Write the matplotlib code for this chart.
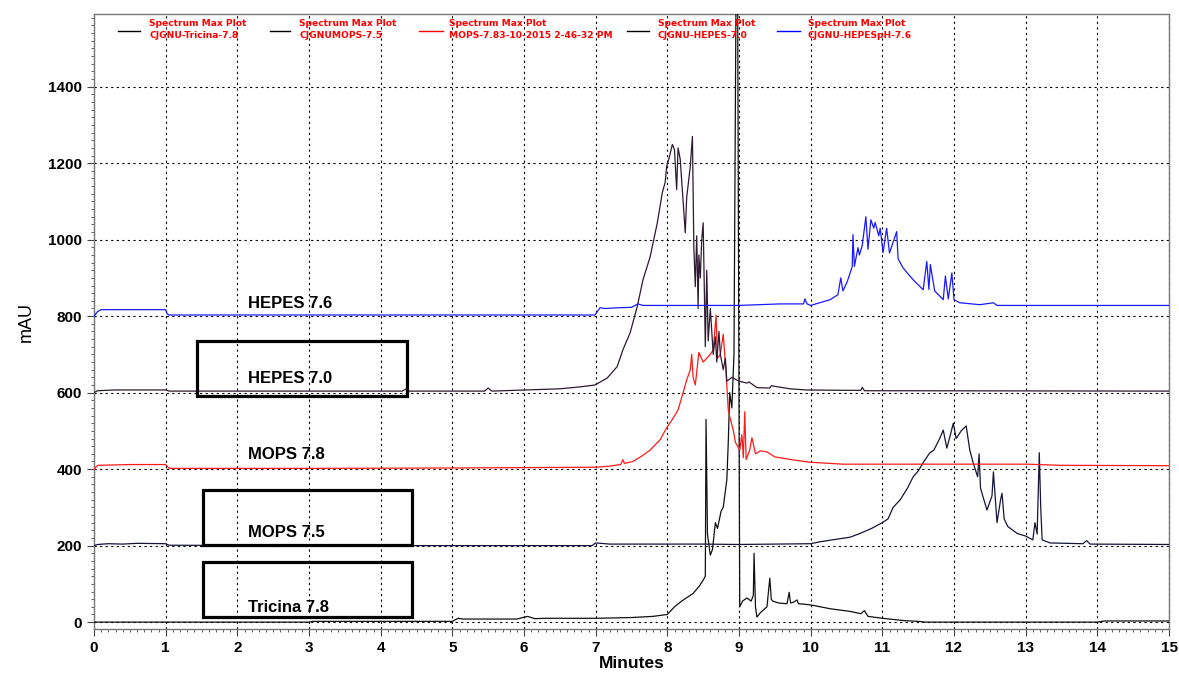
import matplotlib
matplotlib.use('Agg')
import matplotlib.pyplot as plt
from matplotlib.patches import Rectangle
from matplotlib.lines import Line2D
from matplotlib.ticker import MultipleLocator

# Tricina 7.8 (offset 0)
tric_t = [0, 1.0, 3.0, 3.05, 5.0, 5.08, 5.15, 5.5, 5.9, 6.05, 6.15, 6.3, 7.0, 7.5, 7.8, 8.0,
          8.1, 8.2, 8.36, 8.45, 8.5, 8.53, 8.54, 8.56, 8.6, 8.63, 8.67, 8.7, 8.75, 8.78, 8.83,
          8.85, 8.87, 8.9, 8.93, 8.96, 8.98, 9.01, 9.05, 9.11, 9.17, 9.2, 9.21, 9.23, 9.25,
          9.3, 9.39, 9.43, 9.45, 9.47, 9.55, 9.67, 9.7, 9.72, 9.76, 9.81, 9.83, 9.9, 10.0,
          10.27, 10.55, 10.7, 10.75, 10.8, 11.0, 11.3, 11.5, 11.6, 12.0, 14.0, 14.1, 15.0]
tric_v = [0, 0, 0, 2, 2, 10, 8, 8, 8, 15, 9, 10, 10, 12, 15, 20,
          40, 55, 75, 95, 110, 120, 530, 230, 175, 190, 260, 245, 290, 300, 372,
          468, 600, 560, 700, 1700, 1700, 40, 55, 63, 55, 70, 180, 40, 13,
          25, 40, 115, 60, 55, 50, 48, 78, 50, 52, 58, 48, 47, 45,
          35, 28, 22, 30, 15, 10, 4, 2, 0, 0, 0, 3, 3]

# MOPS 7.5 (offset 200)
mops75_t = [0, 0.05, 0.2, 0.4, 0.6, 1.0, 1.05, 3.0, 5.0, 6.95, 7.0, 7.2, 8.5, 9.0, 9.5, 10.0,
            10.13, 10.3, 10.55, 10.69, 10.85, 11.0, 11.08, 11.15, 11.25, 11.35, 11.43, 11.5,
            11.58, 11.66, 11.72, 11.8, 11.85, 11.9, 11.95, 11.99, 12.03, 12.1, 12.17, 12.22,
            12.27, 12.33, 12.35, 12.37, 12.46, 12.53, 12.55, 12.6, 12.65, 12.67, 12.7, 12.75,
            12.88, 13.0, 13.1, 13.13, 13.16, 13.19, 13.21, 13.23, 13.34, 13.8, 13.85, 13.9, 15.0]
mops75_v = [200, 203, 205, 204, 206, 205, 201, 200, 200, 200, 207, 204, 204, 203, 204, 205,
            210, 215, 222, 232, 245, 260, 270, 300, 320, 350, 380, 395,
            420, 442, 450, 480, 502, 455, 490, 520, 480, 500, 513, 450,
            415, 380, 440, 350, 293, 330, 393, 260, 320, 337, 270, 250,
            232, 225, 215, 260, 230, 443, 300, 215, 207, 205, 213, 204, 203]

# MOPS 7.8 (offset 400)
mops78_t = [0, 0.05, 0.5, 1.0, 1.05, 3.0, 5.0, 7.0, 7.2, 7.35, 7.38, 7.4, 7.52, 7.65, 7.76,
            7.9, 7.99, 8.07, 8.15, 8.22, 8.27, 8.32, 8.34, 8.36, 8.39, 8.44, 8.5, 8.55, 8.6,
            8.64, 8.68, 8.7, 8.74, 8.78, 8.82, 8.85, 8.88, 8.92, 8.95, 9.01, 9.04, 9.06, 9.08,
            9.1, 9.15, 9.18, 9.23, 9.3, 9.39, 9.5, 9.76, 9.99, 10.45, 11.0, 13.0, 13.5, 15.0]
mops78_v = [400, 410, 412, 412, 402, 402, 403, 405, 408, 412, 425, 415, 420, 435, 450,
            477, 508, 530, 555, 600, 633, 660, 700, 640, 620, 705, 680, 690, 700,
            712, 803, 690, 700, 753, 650, 555, 530, 502, 470, 450, 490, 430, 550,
            425, 450, 482, 440, 448, 445, 432, 424, 418, 413, 413, 413, 410, 409]

# HEPES 7.0 (offset 600)
hep70_t = [0, 0.05, 0.3, 1.0, 1.05, 4.3, 4.35, 4.4, 5.45, 5.5, 5.55, 6.5, 6.78, 6.99, 7.16,
           7.3, 7.38, 7.48, 7.58, 7.66, 7.76, 7.86, 7.93, 7.97, 7.99, 8.02, 8.07, 8.1, 8.13,
           8.15, 8.18, 8.25, 8.27, 8.32, 8.35, 8.37, 8.39, 8.41, 8.43, 8.44, 8.46, 8.48, 8.5,
           8.53, 8.55, 8.57, 8.6, 8.62, 8.64, 8.67, 8.69, 8.72, 8.74, 8.78, 8.81, 8.83, 8.9,
           9.0, 9.11, 9.14, 9.25, 9.43, 9.45, 9.71, 9.94, 10.5, 10.7, 10.72, 10.75, 11.0, 15.0]
hep70_v = [600, 605, 607, 607, 604, 604, 609, 604, 604, 612, 604, 610, 615, 620, 638,
           668, 712, 756, 825, 895, 955, 1044, 1123, 1150, 1191, 1210, 1249, 1235, 1131,
           1240, 1210, 1018, 1110, 1191, 1270, 980, 877, 1010, 820, 960, 900, 1000, 1044,
           720, 920, 735, 820, 760, 700, 746, 680, 760, 700, 660, 690, 630, 640,
           630, 625, 628, 613, 612, 618, 610, 607, 606, 606, 614, 605, 605, 604]

# HEPES 7.6 (offset 800)
hep76_t = [0, 0.05, 0.1, 0.9, 1.0, 1.02, 1.05, 2.6, 6.6, 6.99, 7.06, 7.13, 7.32, 7.5, 7.59,
           7.66, 9.0, 9.57, 9.9, 9.92, 9.95, 10.0, 10.27, 10.38, 10.42, 10.45, 10.51, 10.58,
           10.59, 10.61, 10.66, 10.68, 10.72, 10.77, 10.8, 10.84, 10.88, 10.9, 10.95, 10.97,
           11.01, 11.06, 11.1, 11.2, 11.22, 11.29, 11.43, 11.57, 11.62, 11.65, 11.67, 11.73,
           11.85, 11.88, 11.92, 11.97, 12.0, 12.08, 12.36, 12.55, 12.6, 13.06, 15.0]
hep76_v = [800, 812, 817, 817, 817, 806, 803, 803, 803, 803, 822, 820, 822, 823, 832,
           828, 828, 832, 832, 845, 832, 828, 843, 856, 900, 866, 890, 930,
           1013, 930, 979, 960, 985, 1060, 975, 1052, 1030, 1045, 1010, 1030,
           966, 1030, 965, 1021, 950, 926, 895, 869, 943, 870, 935, 866,
           843, 905, 845, 913, 843, 835, 830, 835, 828, 828, 828]

legend_top = ['Spectrum Max Plot'] * 5
legend_bottom = ['CJGNU-Tricina-7.8', 'CJGNUMOPS-7.5', 'MOPS-7.83-10-2015 2-46-32 PM',
                 'CJGNU-HEPES-7.0', 'CJGNU-HEPESpH-7.6']
trace_labels = ['Tricina 7.8', 'MOPS 7.5', 'MOPS 7.8', 'HEPES 7.0', 'HEPES 7.6']

colors = ['#111111', '#15153a', '#ff1a1a', '#2e1a30', '#1a1aff']
legend_colors = ['black', 'black', 'red', 'black', 'blue']

W, H = 1179, 673
fig = plt.figure(figsize=(W / 100, H / 100), dpi=100)
ax = fig.add_axes([94 / W, 1 - 629 / H, (1169 - 94) / W, (629 - 14) / H])

series = [(tric_t, tric_v), (mops75_t, mops75_v), (mops78_t, mops78_v),
          (hep70_t, hep70_v), (hep76_t, hep76_v)]
for (t, v), c in zip(series, colors):
    ax.plot(t, v, color=c, lw=0.9, zorder=3)

ax.set_xlim(0, 15)
ax.set_ylim(-18, 1590)
ax.xaxis.set_major_locator(MultipleLocator(1))
ax.xaxis.set_minor_locator(MultipleLocator(0.1))
ax.yaxis.set_major_locator(MultipleLocator(200))
ax.yaxis.set_minor_locator(MultipleLocator(20))
ax.grid(True, which='major', color='black', lw=0.8, linestyle=(0, (2, 3)))
ax.tick_params(which='major', length=5, width=0.8, color='#444444')
ax.tick_params(which='minor', length=2.5, width=0.6, color='#444444')
for lab in ax.get_xticklabels() + ax.get_yticklabels():
    lab.set_fontweight('bold')
    lab.set_fontfamily('Liberation Sans')
    lab.set_fontsize(11)
for s in ax.spines.values():
    s.set_color('#777777')
    s.set_linewidth(1)

ax.set_xlabel('Minutes', fontsize=12.5, fontweight='bold', family='Liberation Sans', labelpad=1)
ax.set_ylabel('mAU', fontsize=13, family='Liberation Sans', labelpad=10)

# trace labels and boxes
label_y = [39, 235, 439, 637, 833]
for lab, y in zip(trace_labels, label_y):
    ax.text(2.15, y, lab, fontsize=12, fontweight='bold', family='Liberation Sans',
            va='center', ha='left', zorder=5)
for x0, y0, x1, y1 in [(1.44, 590, 4.37, 734), (1.52, 201, 4.44, 345), (1.52, 13, 4.44, 157)]:
    ax.add_patch(Rectangle((x0, y0), x1 - x0, y1 - y0, fill=False, ec='black', lw=2.3, zorder=5))

# legend along the top
line_x = [(118, 140), (270, 290), (419, 443), (627, 649), (777, 800)]
text_x = [149, 299, 449, 658, 808]
for (a, b), tx, c, top, bot in zip(line_x, text_x, legend_colors, legend_top, legend_bottom):
    fig.add_artist(Line2D([a / W, b / W], [1 - 30.7 / H] * 2, color=c, lw=1))
    for txt, yy in [(top, 24), (bot, 36)]:
        fig.text(tx / W, 1 - yy / H, txt, color='red', fontsize=6.6, fontweight='bold',
                 family=['Liberation Sans Narrow', 'DejaVu Sans'], va='center', ha='left')

fig.savefig('out.png', dpi=100)
